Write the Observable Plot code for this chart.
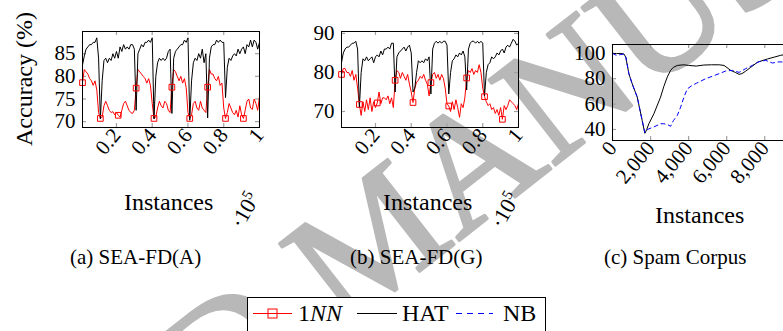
<!DOCTYPE html>
<html><head><meta charset="utf-8">
<script src="https://cdn.jsdelivr.net/npm/d3@7"></script>
<script src="https://cdn.jsdelivr.net/npm/@observablehq/plot@0.6"></script>
<style>
html,body{margin:0;padding:0;background:#fff;}
#root{position:relative;width:783px;height:331px;overflow:hidden;font-family:"Liberation Serif","DejaVu Serif","Times New Roman",Times,serif;color:#000;}
.abs{position:absolute;white-space:nowrap;line-height:1;}
.panel svg{max-width:none !important;}
</style></head>
<body><div id="root"></div>
<script>
// ---------- data ----------
const instancesAB = d3.range(1, 101).map(i => i / 100); // x in units of 10^5
const seaA_1NN = [
78.6,81.5,81,80.5,79.5,79,78,79,77,72,
70.7,71,73.5,74.5,73.5,72.5,72,72.2,71.5,72,
71.4,71,72.5,74,74.5,73.5,72.5,72,71.8,72.5,
77.4,81.5,81,80.5,80,79.5,78.5,79.5,78,74,
70.7,71,73,74.5,73.5,73,74.5,74,72.5,72,
77.6,81.5,81,80,79,80,78.5,79.5,77.5,72,
70.7,71.5,74,74.5,73,72.5,74.5,73,72.5,72,
77.6,81.5,80.5,80.5,79.5,79,80,78,78.5,73,
70.7,72,74,73,72,71.5,72.5,71,73.5,71.5,
70.7,72.5,74.5,75,73,72.7,75,74,72.5,75.5];
const seaA_HAT = [
82.5,84.5,86,86.5,87,87,87.5,87.5,88.5,84,
70.6,79,83.5,84,83,84,83.5,85,84,85.5,
84,86.5,85.5,87,86,86.5,86,87,87,86,
72.5,85,86,87,86.5,87.5,87.5,88,87.5,88.5,
70.6,80,83,84,83.5,84,83.5,84,85.5,86,
71.8,84,85.5,86,86.5,87,87,88,87.5,88.5,
70.3,79,83,84,83.5,85,84,86,83,85,
70.8,84,86.5,87,87,88,87.5,88,87.5,87.5,
75.3,82,84,83.5,84.5,85,84.5,86,85,86,
86.5,85,87,86.5,88,86.5,88,87.5,86,87.5];
const seaG_1NN = [
79.5,81,81,80,80,79,80.5,78,79.5,76,
71.8,69,72.5,70,73,70.5,73.5,70,72.5,71,
72.2,75,72,73.5,73.5,73,74,72,73.5,71,
78,80.5,80,78.5,80,79,78,79.5,77,75,
72.3,76,77.5,78,79,78.5,79.5,78,77,74,
77.4,79.5,80,78.5,79.5,78,79.5,78.5,76,72,
71.4,70,72.5,70.5,73,71,68.5,72,71,73.5,
78.6,80.5,80,81,79.5,80.5,80,82,80,76,
73.8,72.5,71.5,72,70.5,71,69.5,70.5,69,71,
68,71.5,70.5,71.5,73,72.5,72,71.5,70.5,72];
const seaG_HAT = [
82.5,85,86,86.5,86.5,87,87.5,87.5,88,86,
71,80,83.5,83,84,83,83.5,84,82.5,84,
84.5,84,85.5,84.5,86,86,86.5,86,87.5,87.5,
75,84,85,85.5,86,86.5,85.5,86.5,87,85,
75,76,80,83,82.5,83,82.5,83.5,83,84,
74.5,86,87.5,88,87.5,88,87.5,88,88,87,
74.5,80,83,83.5,84.5,84,85,84.5,85.5,84,
75.5,86,87.5,88,88,87.5,88,87.5,88,87.5,
74,80,82,82.5,84,83.5,84,85,84.5,85.5,
86,85,86.5,87,86.5,87.5,88.5,88,87,87.5];
const spamInstHAT = [0,200,400,600,700,860,1035,1300,1560,1700,1800,1910,2175,2525,2700,2877,3053,3200,3404,3754,4000,4400,4800,5200,5600,5860,6210,6450,6649,6800,7000,7263,7614,8140,8491,8842,9300];
const spamHAT =     [100,99.8,100,99.5,97,84,76,65.5,47,37,40,44.5,52.4,65.5,74,81.3,86.6,89,90.5,91,90.5,90,90.8,91,91,90.5,86.6,85,83.5,84,86,89,93,95.6,97,98.5,99.5];
const spamInstNB = [0,200,400,600,700,860,1035,1300,1560,1700,1800,1910,2175,2525,2700,2877,3053,3200,3404,3580,3754,3930,4190,4420,4540,4890,5240,5600,5950,6300,6650,7000,7350,7700,8050,8400,8750,9300];
const spamNB =     [100,98.5,99,99.5,97,84,76,65.5,47,37.5,39.5,40.5,42,44.5,44.5,44,42.5,47,51,57.6,65.5,72,74.8,76.5,77.4,80,81.9,84,86.1,86.6,85,88,90.5,93.5,94.5,92.4,93.3,93];
const ticksAB = [0.2,0.4,0.6,0.8,1];
const ticksYA = [70,75,80,85];
const ticksYB = [70,80,90];
const ticksXC = [0,2000,4000,6000,8000];
const ticksYC = [40,60,80,100];
const captions = ["(a) SEA-FD(A)","(b) SEA-FD(G)","(c) Spam Corpus"];
const seriesNames = ["1NN","HAT","NB"];
const seriesColors = ["#ff0000","#000000","#0000ff"];
const watermark = "ACCEPTED MANUSCRIPT";

const SERIF = '"Liberation Serif","DejaVu Serif","Times New Roman",Times,serif';
const NS = "http://www.w3.org/2000/svg";
// ---------- helpers ----------
const root = document.getElementById("root");
function addDiv(html, style){const d=document.createElement("div");d.className="abs";d.innerHTML=html;Object.assign(d.style,style);root.appendChild(d);return d;}

// watermark (behind the charts)
const wm = document.createElementNS(NS,"svg");
wm.setAttribute("width","783"); wm.setAttribute("height","331");
wm.style.position="absolute"; wm.style.left="0"; wm.style.top="0"; wm.style.pointerEvents="none";
wm.innerHTML = `<text x="-362" y="882" transform="rotate(-38 -362 882)" font-size="165" font-family='${SERIF}' fill="#b8b8b8" stroke="#b8b8b8" stroke-width="3" stroke-linejoin="round">${watermark}</text>`;
root.appendChild(wm);

function panel({left, width, height, mL, mR, mT, mB, xDomain, yDomain, xTicks, yTicks, xFmt, lines, dots}){
  const H = height - mT - mB, W = width - mL - mR;
  const marks = [
    Plot.tickX(xTicks, {x: d => d, stroke: "#a0a0a0", strokeWidth: 1.2, insetTop: H - 4}),
    Plot.tickX(xTicks, {x: d => d, stroke: "#a0a0a0", strokeWidth: 1.2, insetBottom: H - 4}),
    Plot.tickY(yTicks, {y: d => d, stroke: "#a0a0a0", strokeWidth: 1.2, insetRight: W - 4}),
    Plot.tickY(yTicks, {y: d => d, stroke: "#a0a0a0", strokeWidth: 1.2, insetLeft: W - 4}),
    Plot.axisY(yTicks, {tickSize: 0, tickPadding: 7, fontSize: 21, fontFamily: SERIF}),
    Plot.axisX(xTicks, {tickSize: 0, tickPadding: 4, tickRotate: -50, fontSize: 21, fontFamily: SERIF, tickFormat: xFmt}),
  ];
  for (const l of lines) marks.push(Plot.line(l.x.map((x,i)=>({x, y:l.y[i]})), {x:"x", y:"y", stroke:l.color, strokeWidth:1, strokeDasharray:l.dash||null}));
  for (const d of (dots||[])) marks.push(Plot.dot(d.x.map((x,i)=>({x, y:d.y[i]})).filter((_,i)=>i%10===0), {x:"x", y:"y", symbol:"square", r:3.2, stroke:d.color, fill:"none", strokeWidth:1}));
  marks.push(Plot.frame({stroke:"#000", strokeWidth:1}));
  const svg = Plot.plot({
    width, height, marginLeft:mL, marginRight:mR, marginTop:mT, marginBottom:mB,
    x:{domain:xDomain, label:null}, y:{domain:yDomain, label:null},
    style:{fontFamily:SERIF, background:"transparent", overflow:"visible", color:"#000"},
    marks
  });
  const wrap = document.createElement("div");
  wrap.className="abs panel"; wrap.style.left=left+"px"; wrap.style.top="0px";
  wrap.appendChild(svg); root.appendChild(wrap);
}

// (a)
panel({left:0, width:280, height:240, mL:82, mR:21, mT:31, mB:113,
  xDomain:[0.01,1], yDomain:[68.7,89.9], xTicks:ticksAB, yTicks:ticksYA, xFmt:d=>String(d),
  lines:[{x:instancesAB,y:seaA_1NN,color:seriesColors[0]},{x:instancesAB,y:seaA_HAT,color:seriesColors[1]}],
  dots:[{x:instancesAB,y:seaA_1NN,color:seriesColors[0]}]});
// (b)
panel({left:260, width:280, height:240, mL:81, mR:22, mT:31, mB:113,
  xDomain:[0.01,1], yDomain:[65.9,90.5], xTicks:ticksAB, yTicks:ticksYB, xFmt:d=>String(d),
  lines:[{x:instancesAB,y:seaG_1NN,color:seriesColors[0]},{x:instancesAB,y:seaG_HAT,color:seriesColors[1]}],
  dots:[{x:instancesAB,y:seaG_1NN,color:seriesColors[0]}]});
// (c)
panel({left:520, width:290, height:240, mL:92, mR:21, mT:44, mB:100,
  xDomain:[0,9300], yDomain:[31.3,107], xTicks:ticksXC, yTicks:ticksYC, xFmt:d3.format(","),
  lines:[{x:spamInstHAT,y:spamHAT,color:seriesColors[1]},{x:spamInstNB,y:spamNB,color:seriesColors[2],dash:"4,3.5"}]});

// axis labels
addDiv("Accuracy (%)", {left:"-46px", top:"67px", fontSize:"24px", transform:"rotate(-90deg)", width:"140px", textAlign:"center"});
addDiv("Instances", {left:"124px", top:"190px", fontSize:"24px"});
addDiv("Instances", {left:"383px", top:"190px", fontSize:"24px"});
addDiv("Instances", {left:"655px", top:"203px", fontSize:"24px"});
addDiv("·10<sup style='font-size:15px;vertical-align:8px'>5</sup>", {left:"226px", top:"198px", fontSize:"22px", transform:"rotate(-60deg)"});
addDiv("·10<sup style='font-size:15px;vertical-align:8px'>5</sup>", {left:"486px", top:"198px", fontSize:"22px", transform:"rotate(-60deg)"});
// captions
addDiv(captions[0], {left:"70px", top:"247px", fontSize:"21px"});
addDiv(captions[1], {left:"350px", top:"247px", fontSize:"21px"});
addDiv(captions[2], {left:"604px", top:"247px", fontSize:"21px"});

// legend
const lg = document.createElementNS(NS,"svg");
lg.setAttribute("width","300"); lg.setAttribute("height","40");
lg.style.position="absolute"; lg.style.left="247px"; lg.style.top="297px"; lg.style.overflow="visible";
lg.innerHTML = `
<rect x="0.5" y="0.5" width="298" height="60" fill="#fff" stroke="#000" stroke-width="1"/>
<line x1="6" x2="45" y1="16.5" y2="16.5" stroke="${seriesColors[0]}" stroke-width="1"/>
<rect x="21" y="12" width="9" height="9" fill="none" stroke="${seriesColors[0]}" stroke-width="1"/>
<text x="51" y="24" font-size="24" font-family='${SERIF}'>1<tspan font-style="italic">NN</tspan></text>
<line x1="110" x2="150" y1="16.5" y2="16.5" stroke="${seriesColors[1]}" stroke-width="1"/>
<text x="155" y="24" font-size="24" font-family='${SERIF}'>${seriesNames[1]}</text>
<line x1="209" x2="246" y1="16.5" y2="16.5" stroke="${seriesColors[2]}" stroke-width="1" stroke-dasharray="6,5"/>
<text x="256" y="24" font-size="24" font-family='${SERIF}'>${seriesNames[2]}</text>`;
root.appendChild(lg);
</script>
</body></html>
